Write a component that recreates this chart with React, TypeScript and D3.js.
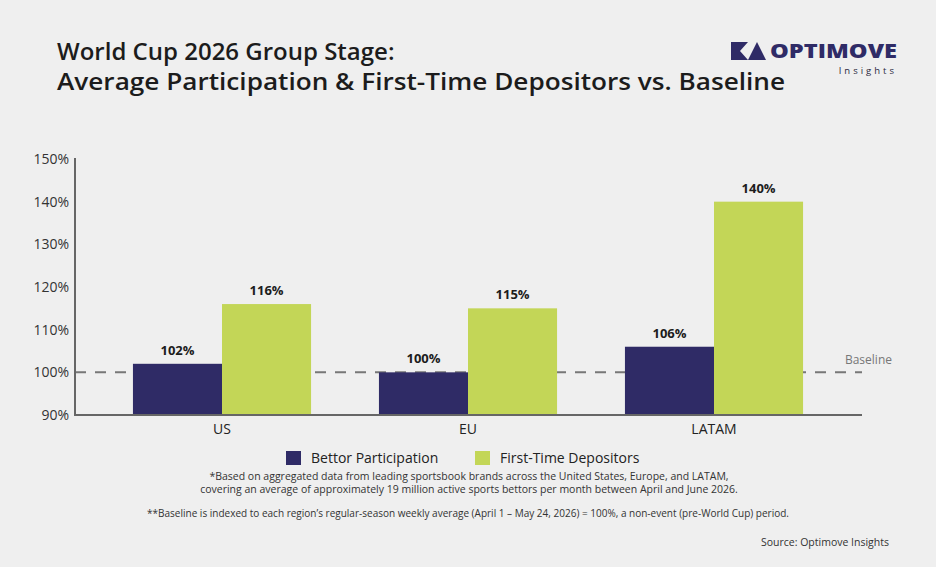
import * as d3 from "d3";
import { useEffect, useRef } from "react";

const regions = ["US", "EU", "LATAM"];
const seriesNames = ["Bettor Participation", "First-Time Depositors"];
const bettorParticipation = [102, 100, 106];
const firstTimeDepositors = [116, 115, 140];
const yTicks = [90, 100, 110, 120, 130, 140, 150];
const baselineValue = 100;

const colors = ["#2f2b66", "#c3d657"];
const FONT = "'Open Sans', 'Noto Sans', sans-serif";

export default function App() {
  const svgRef = useRef<SVGSVGElement | null>(null);

  useEffect(() => {
    if (!svgRef.current) return;
    const width = 936;
    const height = 567;
    const svg = d3.select(svgRef.current);
    svg.selectAll("*").remove();
    svg.attr("viewBox", `0 0 ${width} ${height}`);

    svg.append("rect").attr("width", width).attr("height", height).attr("fill", "#efefef");

    // title
    const title = svg.append("g").attr("font-family", FONT).attr("fill", "#1c1c1c").attr("font-weight", 600);
    title.append("text").attr("x", 57).attr("y", 60).attr("font-size", 24).text("World Cup 2026 Group Stage:");
    title
      .append("text")
      .attr("x", 57)
      .attr("y", 90)
      .attr("font-size", 24)
      .attr("textLength", 728)
      .attr("lengthAdjust", "spacingAndGlyphs")
      .text("Average Participation & First-Time Depositors vs. Baseline");

    // logo
    const logo = svg.append("g").attr("fill", "#2f2b66");
    logo.append("path").attr("d", "M731,42 H748 L740,51 L748,60 H731 Z");
    logo.append("path").attr("d", "M757,42 L766,60 H748 Z");
    logo
      .append("text")
      .attr("x", 897)
      .attr("y", 58)
      .attr("text-anchor", "end")
      .attr("font-family", FONT)
      .attr("font-weight", 800)
      .attr("font-size", 20)
      .attr("textLength", 127)
      .attr("lengthAdjust", "spacingAndGlyphs")
      .text("OPTIMOVE");
    logo
      .append("text")
      .attr("x", 897)
      .attr("y", 74)
      .attr("text-anchor", "end")
      .attr("font-family", FONT)
      .attr("font-size", 9.5)
      .attr("letter-spacing", 3)
      .attr("fill", "#2a2a40")
      .text("Insights");

    const left = 75;
    const right = 862;
    const y = d3.scaleLinear().domain([90, 150]).range([415, 159]);
    const x0 = d3.scaleBand().domain(regions).range([99, 837]).paddingInner(0.276).paddingOuter(0.138);
    const x1 = d3.scaleBand().domain(seriesNames).range([0, x0.bandwidth()]);

    // dashed baseline behind the bars
    svg
      .append("line")
      .attr("x1", left)
      .attr("x2", right)
      .attr("y1", y(baselineValue))
      .attr("y2", y(baselineValue))
      .attr("stroke", "#777")
      .attr("stroke-width", 2)
      .attr("stroke-dasharray", "11 9");
    svg
      .append("text")
      .attr("x", 892)
      .attr("y", 364)
      .attr("text-anchor", "end")
      .attr("font-family", FONT)
      .attr("font-size", 12)
      .attr("fill", "#777")
      .text("Baseline");

    const rows = regions.map((r, i) => ({ region: r, values: [bettorParticipation[i], firstTimeDepositors[i]] }));
    const groups = svg
      .selectAll("g.group")
      .data(rows)
      .join("g")
      .attr("class", "group")
      .attr("transform", (d) => `translate(${x0(d.region)},0)`);

    groups
      .selectAll("rect")
      .data((d) => d.values.map((v, j) => ({ v, j })))
      .join("rect")
      .attr("x", (d) => x1(seriesNames[d.j]) as number)
      .attr("width", x1.bandwidth())
      .attr("y", (d) => y(d.v))
      .attr("height", (d) => y(90) - y(d.v))
      .attr("fill", (d) => colors[d.j]);

    groups
      .selectAll("text.value")
      .data((d) => d.values.map((v, j) => ({ v, j })))
      .join("text")
      .attr("class", "value")
      .attr("x", (d) => (x1(seriesNames[d.j]) as number) + x1.bandwidth() / 2)
      .attr("y", (d) => y(d.v) - 9)
      .attr("text-anchor", "middle")
      .attr("font-family", FONT)
      .attr("font-weight", 700)
      .attr("font-size", 13)
      .attr("fill", "#1c1c1c")
      .text((d) => `${d.v}%`);

    // axes
    const yAxis = svg
      .append("g")
      .attr("transform", `translate(${left},0)`)
      .call(
        d3
          .axisLeft(y)
          .tickValues(yTicks)
          .tickSize(0)
          .tickPadding(6)
          .tickFormat((d) => `${d}%`) as any
      );
    yAxis.select(".domain").remove();
    yAxis.selectAll("text").attr("font-family", FONT).attr("font-size", 14).attr("fill", "#333");

    svg.append("line").attr("x1", left).attr("x2", left).attr("y1", 158).attr("y2", 416).attr("stroke", "#666").attr("stroke-width", 2);
    svg.append("line").attr("x1", left - 1).attr("x2", right).attr("y1", 415).attr("y2", 415).attr("stroke", "#666").attr("stroke-width", 2);

    const xAxis = svg
      .append("g")
      .attr("transform", `translate(0,415)`)
      .call(d3.axisBottom(x0).tickSize(0).tickPadding(9) as any);
    xAxis.select(".domain").remove();
    xAxis.selectAll("text").attr("font-family", FONT).attr("font-size", 14).attr("fill", "#222");

    // legend
    const legendX = [286, 475];
    const legend = svg
      .selectAll("g.legend")
      .data(seriesNames)
      .join("g")
      .attr("class", "legend")
      .attr("transform", (_, i) => `translate(${legendX[i]},451)`);
    legend.append("rect").attr("width", 15).attr("height", 14).attr("fill", (_, i) => colors[i]);
    legend
      .append("text")
      .attr("x", 25)
      .attr("y", 12)
      .attr("font-family", FONT)
      .attr("font-size", 14)
      .attr("fill", "#222")
      .text((d) => d);

    // footnotes
    const notes = svg.append("g").attr("font-family", FONT).attr("font-size", 10.5).attr("fill", "#333").attr("text-anchor", "middle");
    notes
      .append("text")
      .attr("x", 469)
      .attr("y", 480)
      .text("*Based on aggregated data from leading sportsbook brands across the United States, Europe, and LATAM,");
    notes
      .append("text")
      .attr("x", 469)
      .attr("y", 493)
      .text("covering an average of approximately 19 million active sports bettors per month between April and June 2026.");
    notes
      .append("text")
      .attr("x", 468)
      .attr("y", 517)
      .attr("textLength", 642)
      .attr("lengthAdjust", "spacingAndGlyphs")
      .text(
        "**Baseline is indexed to each region\u2019s regular-season weekly average (April 1 \u2013 May 24, 2026) = 100%, a non-event (pre-World Cup) period."
      );
    notes.append("text").attr("x", 889).attr("y", 546).attr("text-anchor", "end").text("Source: Optimove Insights");
  }, []);

  return <svg ref={svgRef} width={936} height={567} style={{ position: "absolute", left: 0, top: 0, display: "block" }} />;
}
